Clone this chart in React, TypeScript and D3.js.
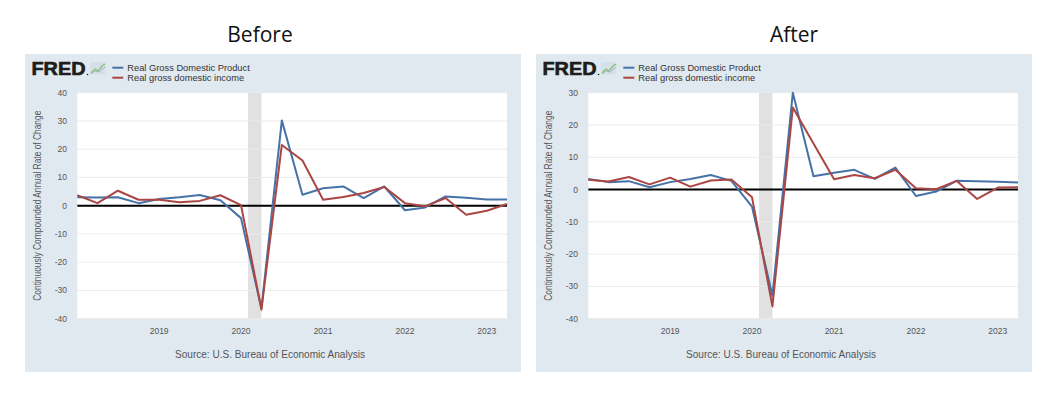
import React from "react";
import * as d3 from "d3";

// quarterly observations, 2018Q1 .. 2023Q2
const quarters = [
  "2018-01-01", "2018-04-01", "2018-07-01", "2018-10-01",
  "2019-01-01", "2019-04-01", "2019-07-01", "2019-10-01",
  "2020-01-01", "2020-04-01", "2020-07-01", "2020-10-01",
  "2021-01-01", "2021-04-01", "2021-07-01", "2021-10-01",
  "2022-01-01", "2022-04-01", "2022-07-01", "2022-10-01",
  "2023-01-01", "2023-04-01",
];

// Before
const gdpBefore = [3.0, 2.9, 3.0, 0.9, 2.4, 3.0, 3.8, 1.9, -4.4, -36.4, 30.2, 3.9, 6.2, 6.8, 2.7, 6.8, -1.6, -0.6, 3.3, 2.8, 2.2, 2.2];
const gdiBefore = [3.7, 0.9, 5.3, 2.1, 2.1, 1.2, 1.7, 3.7, 0.2, -36.8, 21.5, 16.0, 2.1, 3.1, 4.5, 6.6, 0.9, -0.2, 2.7, -3.2, -1.8, 0.6];

// After
const gdpAfter = [3.3, 2.3, 2.6, 0.7, 2.3, 3.3, 4.5, 2.7, -5.3, -32.9, 30.0, 4.1, 5.2, 6.1, 3.3, 6.8, -2.0, -0.6, 2.7, 2.6, 2.4, 2.2];
const gdiAfter = [3.0, 2.5, 3.9, 1.6, 3.7, 0.9, 2.8, 3.1, -2.4, -36.2, 25.4, 14.3, 3.2, 4.5, 3.5, 6.1, 0.4, 0.1, 2.7, -2.9, 0.6, 0.7];

const yTicksBefore = [-40, -30, -20, -10, 0, 10, 20, 30, 40];
const yTicksAfter = [-40, -30, -20, -10, 0, 10, 20, 30];
const yearTicks = ["2019", "2020", "2021", "2022", "2023"];
const recession = ["2020-02-01", "2020-04-01"];

const seriesNames = ["Real Gross Domestic Product", "Real gross domestic income"];
const sourceText = "Source: U.S. Bureau of Economic Analysis";
const yLabel = "Continuously Compounded Annual Rate of Change";

const BLUE = "#4572a7";
const RED = "#aa4643";
const FONT = "'Liberation Sans', Arial, sans-serif";

const parse = d3.utcParse("%Y-%m-%d");

type PanelProps = {
  x0: number;
  title: string;
  titleX: number;
  gdp: number[];
  gdi: number[];
  yTicks: number[];
};

const Panel = ({ x0, title, titleX, gdp, gdi, yTicks }: PanelProps) => {
  const top = 54;
  const w = 496;
  const h = 318;
  const plot = { left: x0 + 52.3, right: x0 + 482, top: 92.7, bottom: 318.7 };

  const x = d3
    .scaleUtc()
    .domain([parse(quarters[0])!, parse(quarters[quarters.length - 1])!])
    .range([plot.left, plot.right]);
  const y = d3
    .scaleLinear()
    .domain(d3.extent(yTicks) as [number, number])
    .range([plot.bottom, plot.top]);

  const line = d3
    .line<number>()
    .x((_, i) => x(parse(quarters[i])!))
    .y((d) => y(d));

  const r0 = x(parse(recession[0])!);
  const r1 = x(parse(recession[1])!);

  return (
    <g>
      <text x={titleX} y={41.7} textAnchor="middle" fontFamily="'Open Sans', sans-serif" fontSize={21} fill="#111">
        {title}
      </text>
      <rect x={x0} y={top} width={w} height={h} fill="#e1e9f0" />

      {/* FRED logo */}
      <text
        x={x0 + 6.5}
        y={75.3}
        fontFamily={FONT}
        fontWeight="bold"
        fontSize={17.5}
        fill="#1d1d1b"
        textLength={54}
        lengthAdjust="spacingAndGlyphs"
        stroke="#1d1d1b"
        strokeWidth={0.6}
      >
        FRED
      </text>
      <circle cx={x0 + 62.5} cy={74.5} r={0.8} fill="#1d1d1b" />
      <g transform={`translate(${x0 + 65},${62})`}>
        <rect width={15.5} height={12.5} fill="#d4e0ea" rx={1} />
        <polyline points="1,11 5,7 8,9 12,4 15,2" fill="none" stroke="#8cbf6b" strokeWidth={1.3} />
        <polyline points="1,12 5,9 9,10 15,5" fill="none" stroke="#9bb4cc" strokeWidth={1} />
      </g>

      {/* legend */}
      {[BLUE, RED].map((c, i) => (
        <g key={c}>
          <line x1={x0 + 87.3} x2={x0 + 98.3} y1={67.7 + i * 10} y2={67.7 + i * 10} stroke={c} strokeWidth={2} />
          <text x={x0 + 102.3} y={71 + i * 10} fontFamily={FONT} fontSize={9.3} fill="#333">
            {seriesNames[i]}
          </text>
        </g>
      ))}

      {/* plot background */}
      <rect x={plot.left} y={plot.top} width={plot.right - plot.left} height={plot.bottom - plot.top} fill="#fff" />
      <rect x={r0} y={plot.top} width={r1 - r0} height={plot.bottom - plot.top} fill="#e1e1e1" />

      {yTicks.map((t) => (
        <g key={t}>
          {t !== 0 && (
            <line x1={plot.left} x2={plot.right} y1={y(t)} y2={y(t)} stroke="#ebebeb" strokeWidth={1} />
          )}
          <text x={x0 + 42} y={y(t) + 3} textAnchor="end" fontFamily={FONT} fontSize={8.5} fill="#555">
            {t}
          </text>
        </g>
      ))}

      {yearTicks.map((yr) => (
        <text
          key={yr}
          x={x(parse(`${yr}-01-01`)!)}
          y={334}
          textAnchor="middle"
          fontFamily={FONT}
          fontSize={8.5}
          fill="#555"
        >
          {yr}
        </text>
      ))}

      <text
        transform={`translate(${x0 + 16},${(plot.top + plot.bottom) / 2}) rotate(-90)`}
        textAnchor="middle"
        fontFamily={FONT}
        fontSize={10}
        fill="#555"
        textLength={190}
        lengthAdjust="spacingAndGlyphs"
      >
        {yLabel}
      </text>

      <line x1={plot.left} x2={plot.right} y1={y(0)} y2={y(0)} stroke="#000" strokeWidth={2} />

      <path d={line(gdp) ?? ""} fill="none" stroke={BLUE} strokeWidth={2} strokeLinejoin="round" />
      <path d={line(gdi) ?? ""} fill="none" stroke={RED} strokeWidth={2} strokeLinejoin="round" />

      <text
        x={x0 + 245}
        y={358}
        textAnchor="middle"
        fontFamily={FONT}
        fontSize={11}
        fill="#555"
        textLength={190}
        lengthAdjust="spacingAndGlyphs"
      >
        {sourceText}
      </text>
    </g>
  );
};

export default function App() {
  return (
    <div style={{ position: "absolute", left: 0, top: 0 }}>
      <svg width={1055} height={398} style={{ display: "block", background: "#fff" }}>
        <Panel x0={25} title="Before" titleX={260} gdp={gdpBefore} gdi={gdiBefore} yTicks={yTicksBefore} />
        <Panel x0={536} title="After" titleX={794} gdp={gdpAfter} gdi={gdiAfter} yTicks={yTicksAfter} />
      </svg>
    </div>
  );
}
